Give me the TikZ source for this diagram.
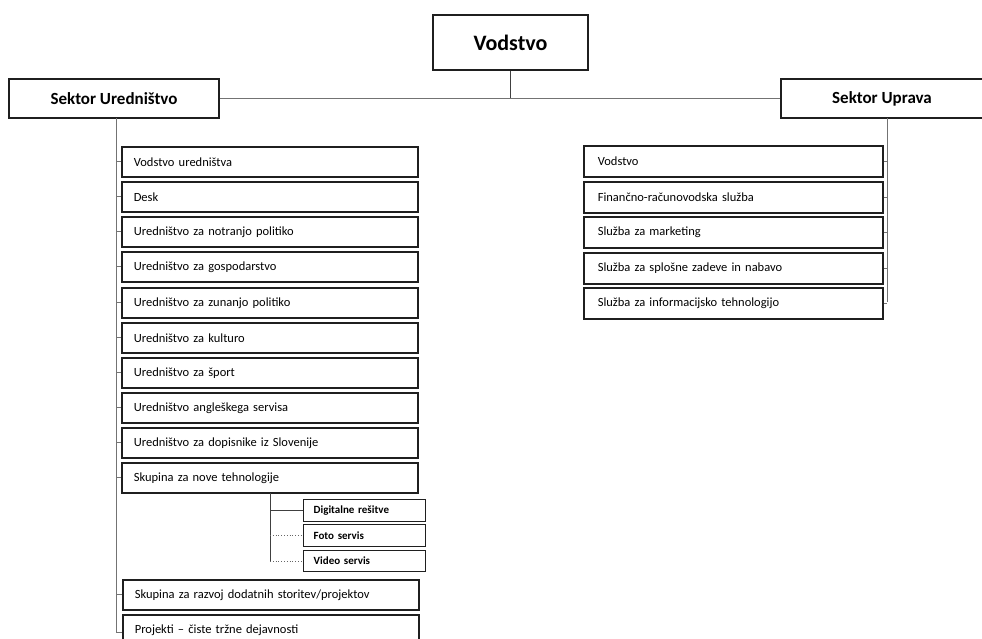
\documentclass[tikz,border=0pt]{standalone}
\usepackage{fontspec}
\setmainfont{Carlito}
\begin{document}
\begin{tikzpicture}[x=1pt,y=-1pt,
  frame/.style={draw=black!88, line width=1.6pt, fill=white, inner sep=0pt},
  head/.style={frame, anchor=center, font=\fontsize{17}{20}\selectfont\bfseries},
  lbox/.style={frame, anchor=north west, inner xsep=12pt, text width=272pt, minimum height=30pt, align=left, font=\fontsize{12.5}{15}\selectfont},
  rbox/.style={frame, anchor=north west, inner xsep=14pt, text width=271pt, minimum height=31pt, align=left, font=\fontsize{12.5}{15}\selectfont},
  sbox/.style={frame, line width=1.3pt, anchor=north west, inner xsep=10pt, text width=102pt, minimum height=22pt, align=left, font=\fontsize{11}{13}\selectfont\bfseries},
  link/.style={draw=black!55, line width=0.7pt},
  dlink/.style={draw=black!60, line width=0.8pt, dotted}]
\useasboundingbox (0,0) rectangle (982,639);
\clip (0,0) rectangle (982,639);
\fill[white] (0,0) rectangle (982,639);

% top
\node[head, line width=2.2pt, minimum width=155pt, minimum height=55pt, font=\fontsize{22}{26}\selectfont\bfseries] (vod) at (510.5,42.5) {Vodstvo};
\node[head, minimum width=210pt, minimum height=39pt] (ured) at (114,98.5) {Sektor Uredništvo};
\node[head, minimum width=202pt, minimum height=39pt] (uprava) at (882,98.5) {Sektor Uprava};

% left column
\node[lbox] (l1) at (121,146) {Vodstvo uredništva};
\node[lbox] (l2) at (121,181) {Desk};
\node[lbox] (l3) at (121,216) {Uredništvo za notranjo politiko};
\node[lbox] (l4) at (121,251) {Uredništvo za gospodarstvo};
\node[lbox] (l5) at (121,287) {Uredništvo za zunanjo politiko};
\node[lbox] (l6) at (121,322) {Uredništvo za kulturo};
\node[lbox] (l7) at (121,357) {Uredništvo za šport};
\node[lbox] (l8) at (121,392) {Uredništvo angleškega servisa};
\node[lbox] (l9) at (121,427) {Uredništvo za dopisnike iz Slovenije};
\node[lbox] (l10) at (121,462) {Skupina za nove tehnologije};
\node[lbox] (l11) at (122,579) {Skupina za razvoj dodatnih storitev/projektov};
\node[lbox] (l12) at (122,614) {Projekti – čiste tržne dejavnosti};

% sub boxes
\node[sbox] (s1) at (303,499) {Digitalne rešitve};
\node[sbox] (s2) at (303,524) {Foto servis};
\node[sbox, minimum height=21pt] (s3) at (303,550) {Video servis};

% right column
\node[rbox] (r1) at (583,145) {Vodstvo};
\node[rbox] (r2) at (583,181) {Finančno-računovodska služba};
\node[rbox] (r3) at (583,216) {Služba za marketing};
\node[rbox] (r4) at (583,252) {Služba za splošne zadeve in nabavo};
\node[rbox] (r5) at (583,287) {Služba za informacijsko tehnologijo};

% connectors top
\draw[link] (ured.east) -- (uprava.west);
\draw[link, draw=black!75, line width=1pt] (vod.south) -- (vod.south |- ured.east);

% left trunk
\coordinate (lt) at (116,118);
\coordinate (lend) at (116,632);
\draw[link] (lt) -- (lend) -- (lend -| l12.west);
\foreach \n in {l1,l2,l3,l4,l5,l6,l7,l8,l9,l10,l11}
  \draw[link] (\n.west) -- (\n.west -| lt);

% sub trunk
\coordinate (st) at (270,493);
\coordinate (send) at (270,561);
\draw[link, draw=black!75] (st) -- (send);
\draw[link, draw=black!75] (s1.west -| st) -- (s1.west);
\draw[dlink] (s2.west -| st) -- (s2.west);
\draw[dlink] (send) -- (send -| s3.west);

% right trunk
\coordinate (rt) at (887,118);
\coordinate (rend) at (887,302);
\draw[link] (rt) -- (rend);
\foreach \n in {r1,r2,r3,r4,r5}
  \draw[link] (\n.east) -- (\n.east -| rt);
\end{tikzpicture}
\end{document}
